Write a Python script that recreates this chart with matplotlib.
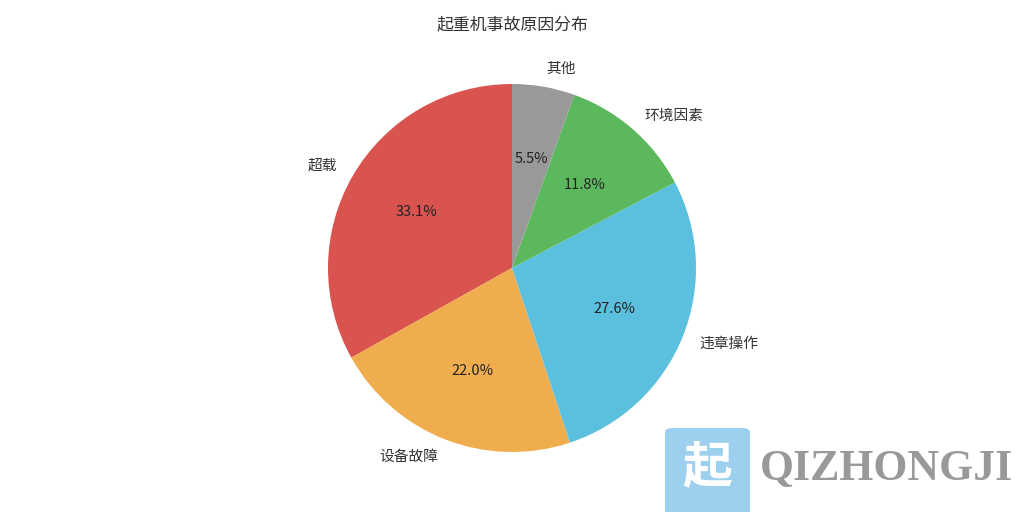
import matplotlib.pyplot as plt
from matplotlib.patches import FancyBboxPatch

plt.rcParams['font.family'] = ['Noto Sans CJK SC', 'DejaVu Sans']

# 数据
labels = ['超载', '设备故障', '违章操作', '环境因素', '其他']
values = [33.1, 22.0, 27.6, 11.8, 5.5]
colors = ['#d9534f', '#f0ad4e', '#5bc0de', '#5cb85c', '#999999']
title = '起重机事故原因分布'

fig = plt.figure(figsize=(10.24, 5.12), dpi=100)
# 饼图中心 (512,268)，半径 184 像素
ax = fig.add_axes([(512 - 184) / 1024, (244 - 184) / 512, 368 / 1024, 368 / 512])
wedges, texts, autotexts = ax.pie(values, labels=labels, colors=colors,
                                  startangle=90, counterclock=True,
                                  autopct='%1.1f%%', pctdistance=0.6,
                                  labeldistance=1.1, radius=1,
                                  textprops={'fontsize': 10.6, 'color': '#333333'})
for t in autotexts:
    t.set_color('#222222')
    t.set_fontsize(10.5)
ax.set_xlim(-1, 1)
ax.set_ylim(-1, 1)
ax.set_aspect('equal')
ax.axis('off')

fig.text(0.5, 1 - 24 / 512, title, ha='center', va='center', fontsize=12.2, color='#333333')

# 水印
box = FancyBboxPatch((665 / 1024, -20 / 512), 85 / 1024, (512 - 428 + 20) / 512,
                     boxstyle='round,pad=0,rounding_size=0.008',
                     transform=fig.transFigure, facecolor='#9dcfee', edgecolor='none')
fig.patches.append(box)
fig.text(707 / 1024, 1 - 468 / 512, '起', ha='center', va='center', fontsize=36,
         color='white', fontweight='bold')
fig.text(760 / 1024, 1 - 469 / 512, 'QIZHONGJI', ha='left', va='center', fontsize=31.5,
         family='Liberation Serif', fontweight='bold', color='#999999')

fig.savefig('out.png', dpi=100, facecolor='white')
